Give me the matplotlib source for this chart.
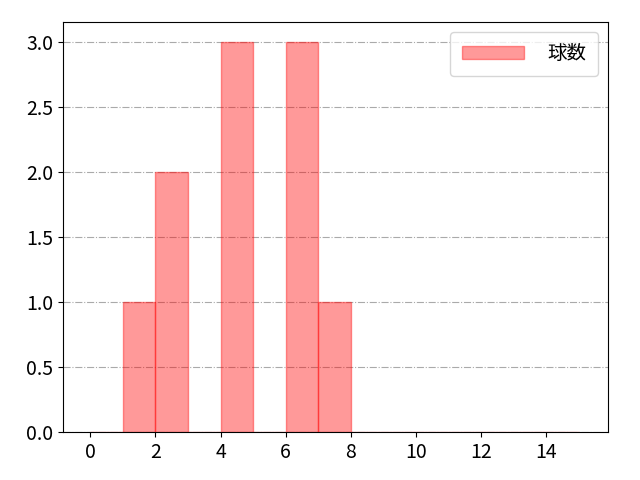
import matplotlib
matplotlib.use("Agg")
import matplotlib.pyplot as plt

plt.rcParams['font.family'] = ['Noto Sans CJK JP', 'DejaVu Sans']

# pitch counts (one value per pitch, binned by width 1)
pitches = [1, 2, 2, 4, 4, 4, 6, 6, 6, 7]
bin_edges = list(range(0, 16))

fig, ax = plt.subplots(figsize=(6.4, 4.8), dpi=100)
ax.hist(pitches, bins=bin_edges, color="red", alpha=0.4, edgecolor="red", label="球数")
ax.set_xlim(-0.85, 15.9)
ax.set_xticks(range(0, 16, 2))
ax.grid(True, axis="y", linestyle="-.", color="#aaaaaa")
ax.set_axisbelow(True)
ax.tick_params(labelsize=14)
ax.legend(loc="upper right", fontsize=14, handlelength=3.2, borderpad=0.6,
          handletextpad=1.2)
fig.subplots_adjust(left=0.098, right=0.95, top=0.954, bottom=0.1)
fig.savefig("out.png")
